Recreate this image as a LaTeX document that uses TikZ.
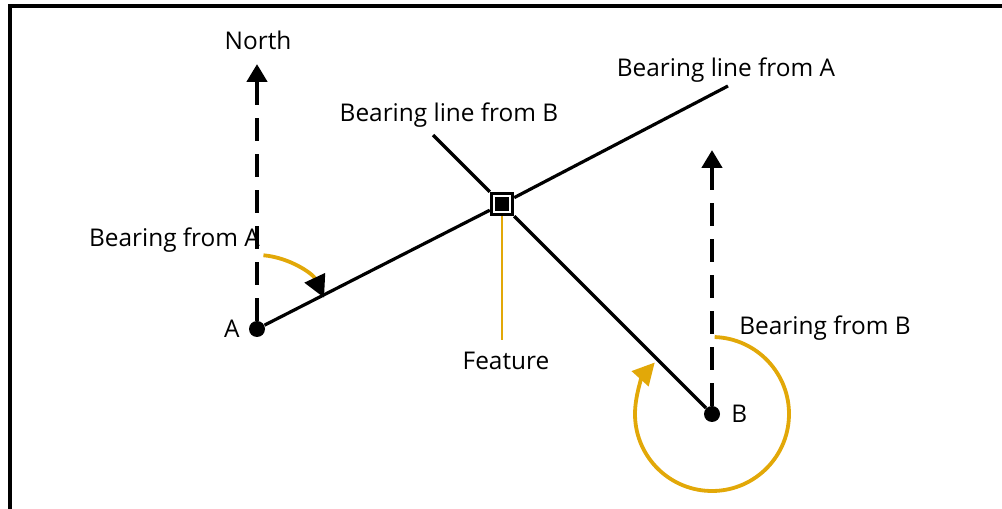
\documentclass[tikz,border=0pt]{standalone}
\usepackage{fontspec}
\setmainfont{Open Sans}
\usepackage{tikz}
\usetikzlibrary{arrows.meta}
\definecolor{bearcol}{RGB}{226,168,8}

\begin{document}
\begin{tikzpicture}[
  x=0.5pt, y=0.5pt,
  every node/.style={font=\fontsize{12.2}{14}\selectfont},
  dot/.style={circle, fill=black, minimum size=8pt, inner sep=0pt},
  feat/.style={draw, line width=1.7pt, minimum size=10.5pt, inner sep=0pt,
               path picture={\fill (path picture bounding box.center)
                 ++(-3.4pt,-3.4pt) rectangle ++(6.8pt,6.8pt);}},
  north/.style={line width=2.3pt, dash pattern=on 11.5pt off 6.5pt,
                -{Triangle[length=9pt,width=10pt]}},
  bline/.style={line width=1.6pt},
  barc/.style={draw=bearcol, line width=1.9pt}
]
  \useasboundingbox (0,0) rectangle (1002,509);
  % frame, cut at right and bottom
  \draw[line width=1.6pt] (10,0) -- (10,503) -- (1002,503);
  % points
  \node[dot] (A) at (257,180) {};
  \node[dot] (B) at (712,95) {};
  \node[feat] (F) at (502,305) {};
  \coordinate (NA) at (257,445);
  \coordinate (NB) at (712,359);
  \coordinate (LA) at (728,423);
  \coordinate (LB) at (433,374);
  \coordinate (Ft) at (502,169);
  % north arrows
  \draw[north] (A) -- (NA);
  \draw[north] (B) -- (NB);
  % bearing lines
  \draw[bline] (A) -- (F) -- (LA);
  \draw[bline] (LB) -- (F) -- (B);
  \draw[draw=bearcol, line width=1pt] (F.south) -- (Ft);
  % bearing arcs
  \draw[barc, -{Triangle[length=11pt,width=11pt,color=black]}]
    (A.center) ++(85:74) arc[start angle=85, end angle=25, radius=74];
  \draw[barc, -{Triangle[length=11pt,width=11pt]}, bearcol]
    (B.center) ++(88:77) arc[start angle=88, end angle=-222, radius=77];
  % labels
  \node (north) at (258,469) {North};
  \node[anchor=east] (lA) at ([xshift=-1pt]A.west) {A};
  \node[anchor=west] (lB) at ([xshift=2pt]B.east) {B};
  \node (feature) at (506,148) {Feature};
  \node[anchor=east] (bA) at (267,269) {Bearing from A};
  \node (bB) at (825,181) {Bearing from B};
  \node (blA) at (726,439) {Bearing line from A};
  \node (blB) at (449,394) {Bearing line from B};
\end{tikzpicture}
\end{document}
